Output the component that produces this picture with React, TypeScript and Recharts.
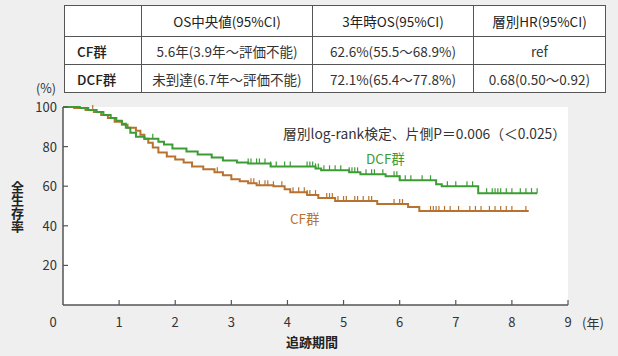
import React from 'react';
import { ComposedChart, Line, Scatter, XAxis, YAxis, CartesianGrid } from 'recharts';

// Kaplan-Meier step points (years, % alive)
const dcfTimes = [0, 0.3, 0.45, 0.6, 0.72, 0.85, 0.95, 1.05, 1.12, 1.2, 1.3, 1.45, 1.7, 1.8, 1.95, 2.2, 2.4, 2.65, 2.85, 3.1, 3.3, 3.7, 4.5, 4.6, 5.1, 5.3, 5.75, 6.0, 6.65, 6.75, 7.4, 8.45];
const dcfSurv = [100, 99.5, 98.5, 97.5, 96, 94.5, 93, 91.5, 89.5, 87, 85, 84, 82.5, 81, 79, 77.5, 76, 74.5, 73, 72, 71.5, 70, 69, 68, 67, 66, 65, 63, 61, 60, 56.5, 56.5];
const cfTimes = [0, 0.2, 0.4, 0.55, 0.68, 0.8, 0.92, 1.05, 1.15, 1.3, 1.38, 1.45, 1.52, 1.6, 1.7, 1.85, 2.0, 2.15, 2.3, 2.5, 2.7, 2.85, 3.0, 3.15, 3.3, 3.45, 3.75, 3.95, 4.05, 4.35, 4.55, 4.85, 5.6, 6.15, 6.35, 8.3];
const cfSurv = [100, 99.5, 98.5, 97.5, 96, 94.5, 92.5, 91, 89.5, 88, 86, 84, 82, 79.5, 77, 75, 73.5, 72, 70, 68.5, 67, 65.5, 63.5, 62.5, 61.5, 60.5, 60, 58.5, 57, 55.5, 54, 52.5, 51, 49.5, 47.5, 47.5];

// censored observations (years)
const dcfCensor = [1.6, 3.3, 3.35, 3.45, 3.5, 3.6, 3.7, 3.8, 3.95, 4.05, 4.35, 4.4, 4.45, 4.5, 4.55, 4.65, 4.75, 4.85, 4.95, 5.1, 5.15, 5.2, 5.25, 5.4, 5.5, 5.55, 5.7, 5.9, 5.95, 6.0, 6.1, 6.2, 6.4, 6.55, 6.85, 7.0, 7.2, 7.3, 7.55, 7.65, 7.7, 7.75, 7.8, 7.9, 8.0, 8.15, 8.25, 8.35, 8.45];
const cfCensor = [0.53, 2.75, 3.35, 3.4, 3.5, 3.6, 3.65, 3.75, 3.9, 4.1, 4.2, 4.3, 4.35, 4.4, 4.5, 4.7, 4.75, 4.8, 4.9, 5.0, 5.05, 5.2, 5.25, 5.35, 5.45, 5.5, 5.9, 6.0, 6.05, 6.55, 6.6, 6.65, 6.7, 6.8, 6.9, 7.05, 7.25, 7.35, 7.45, 7.6, 7.7, 7.8, 7.9, 8.0, 8.25];

const xTicks = [0, 1, 2, 3, 4, 5, 6, 7, 8, 9];
const yTicks = [20, 40, 60, 80, 100];

const tableHead = ['', 'OS中央値(95%CI)', '3年時OS(95%CI)', '層別HR(95%CI)'];
const tableRows = [
  ['CF群', '5.6年(3.9年〜評価不能)', '62.6%(55.5〜68.9%)', 'ref'],
  ['DCF群', '未到達(6.7年〜評価不能)', '72.1%(65.4〜77.8%)', '0.68(0.50〜0.92)'],
];

const GREEN = '#3c9c34';
const BROWN = '#b8722f';
const AXIS = '#555';
const FONT = '"Noto Sans CJK JP", "Noto Sans", sans-serif';

const toPoints = (times: number[], surv: number[]) => times.map((t, i) => ({ t, v: surv[i] }));
const survAt = (times: number[], surv: number[], t: number) => {
  let v = surv[0];
  for (let i = 0; i < times.length; i++) if (times[i] <= t) v = surv[i];
  return v;
};
const censorPoints = (c: number[], times: number[], surv: number[]) =>
  c.map((t) => ({ t, v: survAt(times, surv, t) }));

const dcfData = toPoints(dcfTimes, dcfSurv);
const cfData = toPoints(cfTimes, cfSurv);
const dcfMarks = censorPoints(dcfCensor, dcfTimes, dcfSurv);
const cfMarks = censorPoints(cfCensor, cfTimes, cfSurv);

const XTick = (props: any) => {
  const { x, y, payload } = props;
  const zero = payload.value === 0;
  return (
    <g>
      {!zero && <line x1={x} y1={y} x2={x} y2={y - 5} stroke={AXIS} strokeWidth={1.2} />}
      <text x={zero ? x - 10 : x} y={y + 22} textAnchor="middle" fontSize={13} fill="#333" fontFamily={FONT}>
        {payload.value}
      </text>
    </g>
  );
};

const YTick = (props: any) => {
  const { x, y, payload } = props;
  return (
    <g>
      <line x1={x} y1={y} x2={x + 5} y2={y} stroke={AXIS} strokeWidth={1.2} />
      <text x={x - 6} y={y + 5} textAnchor="end" fontSize={13} fill="#333" fontFamily={FONT}>
        {payload.value}
      </text>
    </g>
  );
};

const censorShape = (color: string) => (props: any) => (
  <line x1={props.cx} y1={props.cy} x2={props.cx} y2={props.cy - 5} stroke={color} strokeWidth={1.2} />
);

const cell: React.CSSProperties = {
  border: '1px solid #555',
  textAlign: 'center',
  padding: 0,
  fontSize: 13.5,
  color: '#333',
  whiteSpace: 'nowrap',
};

export default function App() {
  return (
    <div style={{ position: 'absolute', left: 0, top: 0, width: 618, height: 356, background: '#efefef', fontFamily: FONT, overflow: 'hidden' }}>
      <table style={{ position: 'absolute', left: 64, top: 5, width: 541, height: 87, borderCollapse: 'collapse', background: '#fff', tableLayout: 'fixed' }}>
        <colgroup>
          <col style={{ width: 77 }} />
          <col style={{ width: 171 }} />
          <col style={{ width: 161 }} />
          <col style={{ width: 132 }} />
        </colgroup>
        <tbody>
          <tr style={{ height: 31 }}>
            {tableHead.map((h, i) => (
              <td key={i} style={{ ...cell, color: '#222' }}>{h}</td>
            ))}
          </tr>
          {tableRows.map((r, ri) => (
            <tr key={ri} style={{ height: 28 }}>
              {r.map((c, ci) => (
                <td key={ci} style={ci === 0 ? { ...cell, textAlign: 'left', paddingLeft: 12, color: '#222', fontWeight: 500 } : cell}>{c}</td>
              ))}
            </tr>
          ))}
        </tbody>
      </table>

      <div style={{ position: 'absolute', left: 0, top: 0 }}>
        <ComposedChart width={618} height={356} margin={{ top: 107, right: 50, bottom: 0, left: 0 }}>
          <CartesianGrid fill="#fff" horizontal={false} vertical={false} />
          <XAxis
            type="number"
            dataKey="t"
            domain={[0, 9]}
            ticks={xTicks}
            height={51}
            tickSize={0}
            tickMargin={0}
            tickLine={false}
            axisLine={{ stroke: AXIS, strokeWidth: 1.5 }}
            tick={<XTick />}
            allowDuplicatedCategory={false}
          />
          <YAxis
            type="number"
            dataKey="v"
            domain={[0, 100]}
            ticks={yTicks}
            width={63}
            tickSize={0}
            tickMargin={0}
            tickLine={false}
            axisLine={{ stroke: AXIS, strokeWidth: 1.5 }}
            tick={<YTick />}
          />
          <Line data={cfData} dataKey="v" type="stepAfter" stroke={BROWN} strokeWidth={2} dot={false} isAnimationActive={false} />
          <Line data={dcfData} dataKey="v" type="stepAfter" stroke={GREEN} strokeWidth={2} dot={false} isAnimationActive={false} />
          <Scatter data={cfMarks} dataKey="v" shape={censorShape(BROWN)} isAnimationActive={false} />
          <Scatter data={dcfMarks} dataKey="v" shape={censorShape(GREEN)} isAnimationActive={false} />
        </ComposedChart>
      </div>

      <div style={{ position: 'absolute', left: 36, top: 81, fontSize: 12.5, lineHeight: '13px', color: '#333' }}>(%)</div>
      <div style={{ position: 'absolute', left: 11, top: 181, fontSize: 13, fontWeight: 700, color: '#222', writingMode: 'vertical-rl', lineHeight: 1 }}>全生存率</div>
      <div style={{ position: 'absolute', left: 582, top: 313, fontSize: 13, color: '#333' }}>(年)</div>
      <div style={{ position: 'absolute', left: 286, top: 332, fontSize: 13, fontWeight: 700, color: '#222' }}>追跡期間</div>
      <div style={{ position: 'absolute', left: 283, top: 123, fontSize: 13.8, color: '#333', whiteSpace: 'nowrap' }}>層別log-rank検定、片側P＝0.006（＜0.025）</div>
      <div style={{ position: 'absolute', left: 366, top: 148, fontSize: 13.5, color: GREEN }}>DCF群</div>
      <div style={{ position: 'absolute', left: 290, top: 208, fontSize: 13.5, color: BROWN }}>CF群</div>
    </div>
  );
}
